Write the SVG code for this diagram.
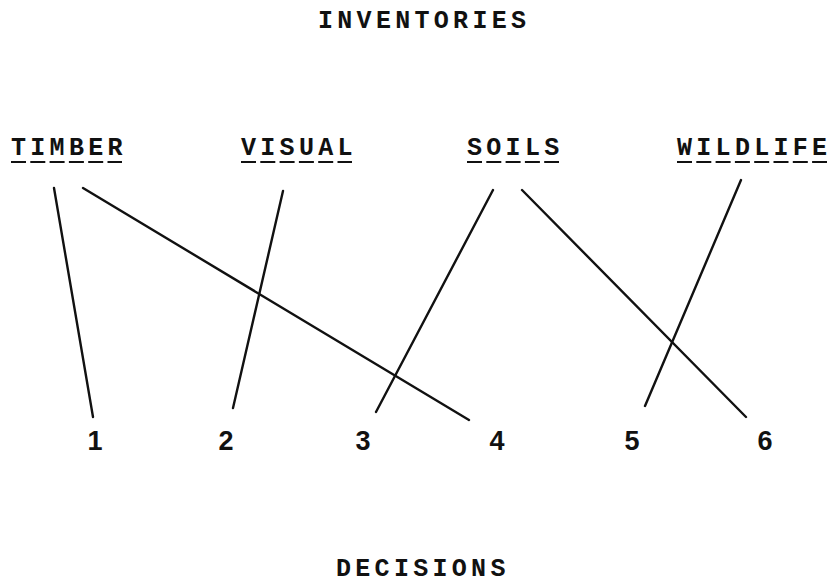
<svg xmlns="http://www.w3.org/2000/svg" width="837" height="586" viewBox="0 0 837 586">
<style>
.t{font-family:"Liberation Mono","DejaVu Sans Mono",monospace;font-weight:bold;font-size:25px;letter-spacing:4.3px;fill:#111}
.n{font-family:"Liberation Sans","DejaVu Sans",sans-serif;font-weight:bold;font-size:27px;fill:#111;text-anchor:middle}
.u{stroke:#111;stroke-width:2;stroke-dasharray:15 4.3}
.c line{stroke:#111;stroke-width:2.4;stroke-linecap:round}
</style>
<rect width="837" height="586" fill="#fff"/>
<g id="inventories"><text class="t" x="318" y="28">INVENTORIES</text></g>
<g id="timber"><text class="t" x="11" y="155">TIMBER</text><line class="u" x1="11" y1="162" x2="122" y2="162"/></g>
<g id="visual"><text class="t" x="241" y="155">VISUAL</text><line class="u" x1="241" y1="162" x2="352" y2="162"/></g>
<g id="soils"><text class="t" x="467" y="155">SOILS</text><line class="u" x1="467" y1="162" x2="559" y2="162"/></g>
<g id="wildlife"><text class="t" x="677" y="155">WILDLIFE</text><line class="u" x1="677" y1="162" x2="827" y2="162"/></g>
<g id="d1"><text class="n" x="95" y="450">1</text></g>
<g id="d2"><text class="n" x="226" y="450">2</text></g>
<g id="d3"><text class="n" x="363" y="450">3</text></g>
<g id="d4"><text class="n" x="497" y="450">4</text></g>
<g id="d5"><text class="n" x="632" y="450">5</text></g>
<g id="d6"><text class="n" x="765" y="450">6</text></g>
<g id="decisions"><text class="t" x="336" y="576">DECISIONS</text></g>
<g id="connectors" class="c">
<line x1="54" y1="188" x2="93" y2="417"/>
<line x1="83" y1="188" x2="469" y2="420"/>
<line x1="283" y1="191" x2="233" y2="408"/>
<line x1="493" y1="190" x2="376" y2="412"/>
<line x1="522" y1="190" x2="746" y2="417"/>
<line x1="741" y1="180" x2="645" y2="406"/>
</g>
</svg>
